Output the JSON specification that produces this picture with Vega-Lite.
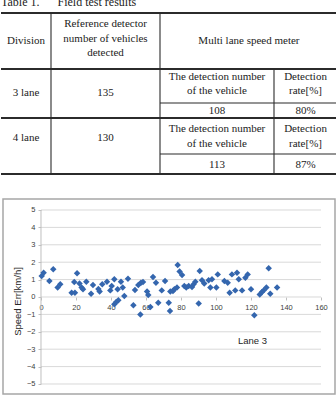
{
  "$schema": "https://vega.github.io/schema/vega-lite/v6.json",
  "padding": {"top": -4, "left": 0, "right": 0, "bottom": 0},
  "background": "white",
  "bounds": "flush",
  "center": true,
  "spacing": 23,
  "config": {"view": {"stroke": null}},
  "datasets": {
    "lines": [
      {"x1": 0, "x2": 4, "y1": 0, "y2": 0, "kind": "thick"},
      {"x1": 0, "x2": 4, "y1": 1, "y2": 1, "kind": "thick"},
      {"x1": 2, "x2": 4, "y1": 2, "y2": 2, "kind": "thin"},
      {"x1": 0, "x2": 4, "y1": 3, "y2": 3, "kind": "thick"},
      {"x1": 2, "x2": 4, "y1": 4, "y2": 4, "kind": "thin"},
      {"x1": 0, "x2": 4, "y1": 5, "y2": 5, "kind": "thick"},
      {"x1": 1, "x2": 1, "y1": 0, "y2": 5, "kind": "thin"},
      {"x1": 2, "x2": 2, "y1": 0, "y2": 5, "kind": "thin"},
      {"x1": 3, "x2": 3, "y1": 1, "y2": 5, "kind": "thin"}
    ],
    "caption": [
      {"c": 0, "r": -0.12, "t": "Table 1.", "w": "bold"},
      {"c": 1.06, "r": -0.12, "t": "Field test results", "w": "normal"}
    ],
    "cells": [
      {"c": 0.5, "r": 0.5, "t": "Division"},
      {"c": 1.5, "r": 0.2, "t": "Reference detector\nnumber of vehicles\ndetected"},
      {"c": 2.78, "r": 0.5, "t": "Multi lane speed meter"},
      {"c": 0.5, "r": 1.71, "t": "3 lane"},
      {"c": 1.5, "r": 1.71, "t": "135"},
      {"c": 2.5, "r": 1.235, "t": "The detection number\nof the vehicle"},
      {"c": 3.5, "r": 1.235, "t": "Detection\nrate[%]"},
      {"c": 2.5, "r": 2.53, "t": "108"},
      {"c": 3.5, "r": 2.53, "t": "80%"},
      {"c": 0.5, "r": 3.56, "t": "4 lane"},
      {"c": 1.5, "r": 3.56, "t": "130"},
      {"c": 2.5, "r": 3.306, "t": "The detection number\nof the vehicle"},
      {"c": 3.5, "r": 3.306, "t": "Detection\nrate[%]"},
      {"c": 2.5, "r": 4.55, "t": "113"},
      {"c": 3.5, "r": 4.55, "t": "87%"}
    ],
    "grid": [
      {"v": -5}, {"v": -4}, {"v": -3}, {"v": -2}, {"v": -1}, {"v": 0},
      {"v": 1}, {"v": 2}, {"v": 3}, {"v": 4}, {"v": 5}
    ],
    "points": [
      {"x": 0.4, "y": 1.21}, {"x": 1.5, "y": 1.4}, {"x": 4.8, "y": 0.92}, {"x": 7, "y": 1.59},
      {"x": 9.5, "y": 0.54}, {"x": 11, "y": 0.73}, {"x": 17.5, "y": 0.25}, {"x": 19.4, "y": 0.25},
      {"x": 19, "y": 0.86}, {"x": 20.6, "y": 1.36}, {"x": 22, "y": 0.77}, {"x": 23.2, "y": 0.54},
      {"x": 24, "y": 0.44}, {"x": 25.9, "y": 0.88}, {"x": 28.6, "y": 0.19}, {"x": 29.7, "y": 0.69},
      {"x": 32.8, "y": 0.46}, {"x": 33.5, "y": 0.31}, {"x": 35, "y": 0.73}, {"x": 37.7, "y": 0.88},
      {"x": 39.6, "y": 0.38}, {"x": 40.4, "y": 0.63}, {"x": 41.9, "y": 1.02}, {"x": 41.9, "y": -0.42},
      {"x": 43, "y": -0.29}, {"x": 44.2, "y": -0.19}, {"x": 43.8, "y": 0.44}, {"x": 45.7, "y": 0.88},
      {"x": 46.7, "y": 0.54}, {"x": 47.6, "y": 0.06}, {"x": 49.7, "y": 1.05}, {"x": 52.8, "y": -0.48},
      {"x": 53.7, "y": 0.4}, {"x": 55.6, "y": 0.69}, {"x": 57.1, "y": 0.82}, {"x": 58.3, "y": 0.86},
      {"x": 56.8, "y": -1.0}, {"x": 60.6, "y": 0.31}, {"x": 61.3, "y": 0.11}, {"x": 62.5, "y": -0.57},
      {"x": 64, "y": 1.15}, {"x": 65.7, "y": 0.82}, {"x": 67, "y": -0.33}, {"x": 69, "y": 0.38},
      {"x": 70.9, "y": 0.92}, {"x": 73, "y": -0.33}, {"x": 73.7, "y": -0.8}, {"x": 73.9, "y": 0.31},
      {"x": 75.4, "y": 0.34}, {"x": 76.2, "y": 0.44}, {"x": 77.7, "y": 0.54}, {"x": 78.1, "y": 1.84},
      {"x": 79.2, "y": 1.46}, {"x": 80.6, "y": 1.26}, {"x": 81.9, "y": 0.63}, {"x": 83, "y": 0.54},
      {"x": 84.4, "y": 0.63}, {"x": 86.3, "y": 0.57}, {"x": 87.2, "y": 0.73}, {"x": 88.2, "y": 0.88},
      {"x": 90.1, "y": -0.38}, {"x": 90.7, "y": 1.49}, {"x": 92, "y": 0.96}, {"x": 93.3, "y": 0.77},
      {"x": 95.8, "y": 0.96}, {"x": 96.8, "y": 0.54}, {"x": 97.7, "y": 1.02}, {"x": 100.2, "y": 0.54},
      {"x": 101, "y": 1.3}, {"x": 104.8, "y": 0.92}, {"x": 106.7, "y": 0.82}, {"x": 107.8, "y": 0.25},
      {"x": 109.1, "y": 1.3}, {"x": 111, "y": 0.38}, {"x": 112, "y": 1.4}, {"x": 113, "y": 1.02},
      {"x": 114.9, "y": 0.38}, {"x": 116.8, "y": 1.11}, {"x": 118.1, "y": 1.3}, {"x": 120, "y": 0.44},
      {"x": 121.9, "y": -1.05}, {"x": 125, "y": 0.15}, {"x": 126.3, "y": 0.29}, {"x": 127.2, "y": 0.38},
      {"x": 128.8, "y": 0.54}, {"x": 130.1, "y": 1.65}, {"x": 131, "y": 0.19}, {"x": 134.9, "y": 0.54}
    ]
  },
  "vconcat": [
    {
      "width": 336,
      "height": 175,
      "layer": [
        {
          "data": {"name": "lines"},
          "mark": {"type": "rule", "color": "#2b2b2b"},
          "encoding": {
            "x": {"field": "x1", "type": "quantitative", "axis": null,
                  "scale": {"domain": [0, 1, 2, 3, 4], "range": [0, 50, 159, 273, 336], "nice": false, "zero": false}},
            "x2": {"field": "x2"},
            "y": {"field": "y1", "type": "quantitative", "axis": null,
                  "scale": {"domain": [0, 1, 2, 3, 4, 5], "range": [12, 68, 102, 117, 153, 173], "nice": false, "zero": false}},
            "y2": {"field": "y2"},
            "strokeWidth": {"field": "kind", "type": "nominal", "legend": null,
                            "scale": {"domain": ["thick", "thin"], "range": [1.8, 1.1]}}
          }
        },
        {
          "data": {"name": "caption"},
          "mark": {"type": "text", "font": "Liberation Serif", "fontSize": 12, "color": "#222222",
                   "align": "left", "baseline": "alphabetic"},
          "encoding": {
            "x": {"field": "c", "type": "quantitative", "axis": null},
            "y": {"field": "r", "type": "quantitative", "axis": null},
            "text": {"field": "t", "type": "nominal"},
            "fontWeight": {"field": "w", "type": "nominal", "legend": null, "scale": null}
          }
        },
        {
          "data": {"name": "cells"},
          "mark": {"type": "text", "font": "Liberation Serif", "fontSize": 11, "color": "#222222",
                   "align": "center", "baseline": "middle", "lineBreak": "\n", "lineHeight": 14.5},
          "encoding": {
            "x": {"field": "c", "type": "quantitative", "axis": null},
            "y": {"field": "r", "type": "quantitative", "axis": null},
            "text": {"field": "t", "type": "nominal"}
          }
        }
      ]
    },
    {
      "width": 332,
      "height": 195,
      "view": {"stroke": "#A6A6A6", "strokeWidth": 1.5},
      "layer": [
        {
          "data": {"name": "grid"},
          "mark": {"type": "rule", "color": "#D9D9D9", "strokeWidth": 1},
          "encoding": {
            "y": {"field": "v", "type": "quantitative",
                  "scale": {"domain": [-5.575, 5.632], "nice": false, "zero": false},
                  "axis": {"orient": "left", "offset": -38, "values": [-5, -4, -3, -2, -1, 0, 1, 2, 3, 4, 5],
                           "tickCount": 11, "domain": false, "grid": false, "tickSize": 3, "tickColor": "#BFBFBF",
                           "labelOverlap": false,
                           "labelFont": "Liberation Sans", "labelFontSize": 7.5, "labelColor": "#404040",
                           "labelPadding": 3, "title": "Speed Err[km/h]", "titleFont": "Liberation Sans",
                           "titleFontSize": 9.5, "titleFontWeight": "normal", "titleColor": "#262626",
                           "titleX": -24, "titleY": 102, "titleAngle": -90, "titleBaseline": "middle", "titleAlign": "center"}},
            "x": {"datum": 0, "type": "quantitative",
                  "scale": {"domain": [-21.714, 168], "nice": false, "zero": false},
                  "axis": {"orient": "bottom", "offset": -97, "values": [0, 20, 40, 60, 80, 100, 120, 140, 160],
                           "tickCount": 9, "domain": false, "grid": false, "tickSize": 3, "tickColor": "#BFBFBF",
                           "labelOverlap": false,
                           "labelFont": "Liberation Sans", "labelFontSize": 7.5, "labelColor": "#404040",
                           "labelPadding": 3, "title": "Lane 3", "titleFont": "Liberation Sans",
                           "titleFontSize": 9.5, "titleFontWeight": "normal", "titleColor": "#262626",
                           "titleX": 249, "titleY": 43, "titleBaseline": "middle", "titleAlign": "center"}},
            "x2": {"datum": 160}
          }
        },
        {
          "data": {"values": [{"a": 0}]},
          "mark": {"type": "rule", "color": "#BFBFBF", "strokeWidth": 1},
          "encoding": {
            "x": {"datum": 0, "type": "quantitative"},
            "y": {"datum": -5, "type": "quantitative"},
            "y2": {"datum": 5}
          }
        },
        {
          "data": {"name": "points"},
          "mark": {"type": "point", "shape": "diamond", "filled": true, "size": 42, "color": "#3466AE", "opacity": 1},
          "encoding": {
            "x": {"field": "x", "type": "quantitative"},
            "y": {"field": "y", "type": "quantitative"}
          }
        }
      ]
    }
  ]
}
